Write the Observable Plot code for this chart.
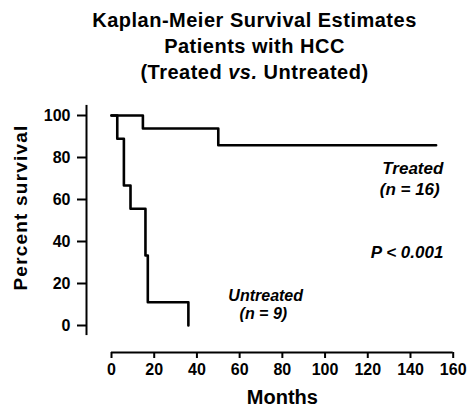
<!DOCTYPE html>
<html>
<head>
<meta charset="utf-8">
<script src="https://cdn.jsdelivr.net/npm/d3@7"></script>
<script src="https://cdn.jsdelivr.net/npm/@observablehq/plot@0.6"></script>
<style>
  html, body { margin: 0; padding: 0; background: #fff; }
  #wrap { width: 467px; height: 409px; position: relative; font-family: "Liberation Sans", Arial, sans-serif; }
  #title { height: 90px; box-sizing: border-box; padding-top: 7px; padding-left: 42px; text-align: center; font-weight: bold; font-size: 20px; letter-spacing: 0.5px; line-height: 26px; color: #000; }
  svg { display: block; }
</style>
</head>
<body>
<div id="wrap">
  <div id="title">Kaplan-Meier Survival Estimates<br>Patients with HCC<br>(Treated <i>vs.</i> Untreated)</div>
  <div id="chart"></div>
</div>
<script>
// Treated group (n = 16)
const treatedMonths = [0, 14.7, 50, 152];
const treatedSurvival = [100, 93.8, 85.8, 85.8];
// Untreated group (n = 9)
const untreatedMonths = [0, 2.7, 5.8, 8.9, 15.9, 17.0, 36];
const untreatedSurvival = [100, 88.9, 66.7, 55.6, 33.3, 11.1, 0];
// Axis ticks
const xTicks = [0, 20, 40, 60, 80, 100, 120, 140, 160];
const yTicks = [0, 20, 40, 60, 80, 100];
// Annotations (data coordinates)
const annoText = ["Treated", "(n = 16)", "P < 0.001"];
const annoX = [155.4, 153.7, 155.4];
const annoY = [74.8, 64.8, 34.8];
const untreatedLabel = ["Untreated", "(n = 9)"];
const untreatedLabelX = [72.2, 71.1];
const untreatedLabelY = [14.3, 5.7];

const treated = treatedMonths.map((m, i) => ({months: m, survival: treatedSurvival[i]}));
const untreated = untreatedMonths.map((m, i) => ({months: m, survival: untreatedSurvival[i]}));
const annos = annoText.map((t, i) => ({t, x: annoX[i], y: annoY[i]}));
const uAnnos = untreatedLabel.map((t, i) => ({t, x: untreatedLabelX[i], y: untreatedLabelY[i]}));

const font = "'Liberation Sans', Arial, sans-serif";
const yExt = 4.8;

const chart = Plot.plot({
  width: 467,
  height: 319,
  marginLeft: 111,
  marginRight: 14.3,
  marginTop: 25,
  marginBottom: 84,
  style: {fontFamily: font, color: "#000", background: "#fff", fontWeight: "bold", fontSize: "16px"},
  x: {domain: [0, 160]},
  y: {domain: [0, 100]},
  marks: [
    // y axis
    Plot.ruleX([0], {y1: d3.min(yTicks) - yExt, y2: d3.max(yTicks) + yExt, dx: -25, stroke: "#000", strokeWidth: 2}),
    Plot.axisY({ticks: yTicks, tickSize: 9, tickPadding: 7, dx: -25, stroke: "#000", strokeWidth: 2, fontSize: 16, fontWeight: "bold", label: null}),
    // x axis
    Plot.ruleY([0], {x1: d3.min(xTicks), x2: d3.max(xTicks), dy: 27, stroke: "#000", strokeWidth: 2}),
    Plot.axisX({ticks: xTicks, tickSize: 6, tickPadding: 5, dy: 27, stroke: "#000", strokeWidth: 2, fontSize: 16, fontWeight: "bold", label: null}),
    // axis titles
    Plot.text(["Months"], {frameAnchor: "bottom", lineAnchor: "middle", dy: 72, fontSize: 20, fontWeight: "bold", fill: "#000"}),
    Plot.text(["Percent survival"], {frameAnchor: "left", textAnchor: "middle", lineAnchor: "middle", dx: -91, dy: -13, rotate: -90, fontSize: 19, fontWeight: "bold", fill: "#000"}),
    // curves
    Plot.line(untreated, {x: "months", y: "survival", curve: "step-after", stroke: "#000", strokeWidth: 2.6}),
    Plot.line(treated, {x: "months", y: "survival", curve: "step-after", stroke: "#000", strokeWidth: 2.6}),
    // annotations
    Plot.text(annos, {x: "x", y: "y", text: "t", textAnchor: "end", fontSize: 17, fontWeight: "bold", fontStyle: "italic", fill: "#000"}),
    Plot.text(uAnnos, {x: "x", y: "y", text: "t", textAnchor: "middle", fontSize: 16, fontWeight: "bold", fontStyle: "italic", fill: "#000"})
  ]
});
document.getElementById("chart").appendChild(chart);
const svgSel = d3.select(chart);
// letter-spacing for the rotated axis title
svgSel.selectAll("text").filter(function() { return this.textContent === "Percent survival"; }).style("letter-spacing", "1.2px");
// tick label font size
const tickStrings = new Set([...xTicks, ...yTicks].map(String));
svgSel.selectAll("text").filter(function() { return tickStrings.has(this.textContent); })
  .style("font-size", "16px").style("font-weight", "bold");
</script>
</body>
</html>
